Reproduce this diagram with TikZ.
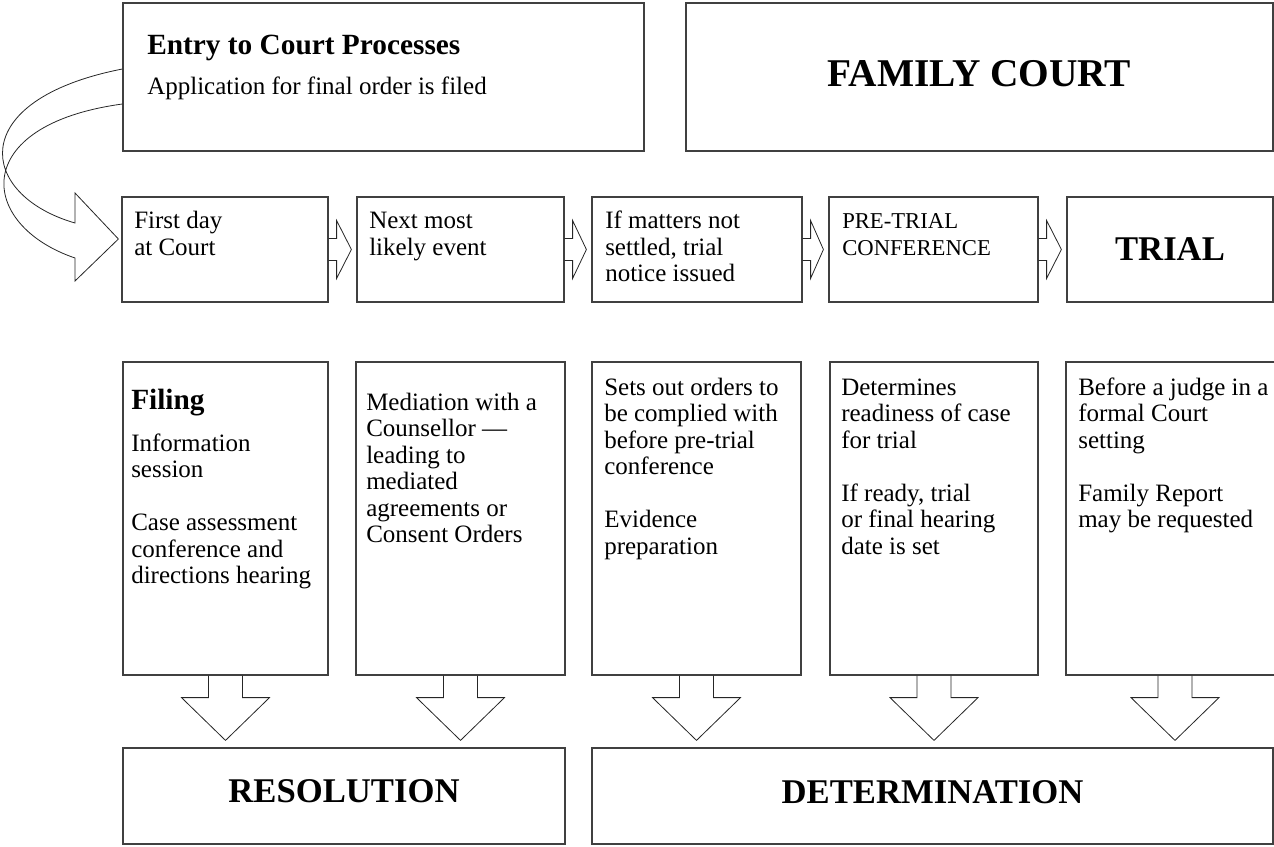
\documentclass[tikz,border=0pt]{standalone}
\usepackage{fontspec}
\setmainfont{Liberation Serif}
\usetikzlibrary{fit,calc}
\begin{document}
\begin{tikzpicture}[x=0.75pt,y=-0.75pt,
  box/.style={draw=black!75, line width=0.9pt, inner sep=0pt},
  blk/.style={draw=black!85, line width=0.6pt, line join=miter},
  body/.style={font=\fontsize{18.75}{19.875}\selectfont, inner sep=0pt, align=left, anchor=north west, text=black},
  headtxt/.style={font=\bfseries\fontsize{22}{26}\selectfont, inner sep=0pt, anchor=base west, text=black},
  bigtxt/.style={font=\bfseries\fontsize{26}{30}\selectfont, inner sep=0pt, text=black},
]
\useasboundingbox (0,0) rectangle (1274,846);
\clip (0,0) rectangle (1274,846);

% top row
\node[box, fit={(123,3) (644,151)}] (entry) {};
\node[headtxt] (entryh) at (147,54) {Entry to Court Processes};
\node[body, anchor=base west] (entryt) at (147,94) {Application for final order is filed};
\node[box, fit={(686,3) (1273,151)}] (fam) {};
\node[bigtxt, font=\bfseries\fontsize{29.5}{33}\selectfont] (famt) at ($(fam.center)+(0,-3)$) {FAMILY COURT};

% second row
\node[box, fit={(122,197) (328,302)}] (s1) {};
\node[box, fit={(357,197) (564,302)}] (s2) {};
\node[box, fit={(592,197) (802,302)}] (s3) {};
\node[box, fit={(829,197) (1038,302)}] (s4) {};
\node[box, fit={(1067,197) (1273,302)}] (s5) {};
\node[body] (s1t) at (134,210) {\strut First day\\at Court};
\node[body] (s2t) at (369,210) {\strut Next most\\likely event};
\node[body] (s3t) at (605,210) {\strut If matters not\\settled, trial\\notice issued};
\node[body, font=\fontsize{17}{19.875}\selectfont] (s4t) at (842,210) {\strut PRE-TRIAL\\CONFERENCE};
\node[bigtxt] (s5t) at (s5.center) {TRIAL};

\foreach \a/\b in {s1/s2, s2/s3, s3/s4, s4/s5}{
  \draw[blk] ($(\a.east)+(0,-11)$) -- ($(\a.east)+(8,-11)$) -- ($(\a.east)+(8,-29)$)
    -- ($(\b.west)+(-5,0)$) -- ($(\a.east)+(8,29)$) -- ($(\a.east)+(8,11)$) -- ($(\a.east)+(0,11)$);
}

% curved arrow
\draw[blk] ($(entry.west)+(0,-8)$) .. controls (-36,100) and (-22,195) .. (75,223)
  -- (75,193) -- ($(s1.west)+(-3,-10.5)$) -- (75,281) -- (75,258)
  .. controls (-22,225) and (-32,125) .. ($(entry.west)+(0,27)$);

% third row
\node[box, fit={(123,362) (328,675)}] (d1) {};
\node[box, fit={(356,362) (565,675)}] (d2) {};
\node[box, fit={(592,362) (801,675)}] (d3) {};
\node[box, fit={(830,362) (1038,675)}] (d4) {};
\node[box, fit={(1066,362) (1284,675)}] (d5) {};
\node[headtxt] (d1h) at (131,409) {Filing};
\node[body] (d1t) at (131,432.5) {\strut Information\\session\\[19.875pt]Case assessment\\conference and\\directions hearing};
\node[body] (d2t) at (366,391.5) {\strut Mediation with a\\Counsellor —\\leading to\\mediated\\agreements or\\Consent Orders};
\node[body] (d3t) at (604,376.5) {\strut Sets out orders to\\be complied with\\before pre-trial\\conference\\[19.875pt]Evidence\\preparation};
\node[body] (d4t) at (841,376.5) {\strut Determines\\readiness of case\\for trial\\[19.875pt]If ready, trial\\or final hearing\\date is set};
\node[body] (d5t) at (1078,376.5) {\strut Before a judge in a\\formal Court\\setting\\[19.875pt]Family Report\\may be requested};

% bottom row
\node[box, fit={(123,748) (565,844)}] (res) {};
\node[box, fit={(592,748) (1273,844)}] (det) {};
\node[bigtxt] (rest) at ($(res.center)+(0,-5)$) {RESOLUTION};
\node[bigtxt] (dett) at ($(det.center)+(0,-4)$) {DETERMINATION};

\foreach \a/\b/\dx in {d1/res/4, d2/res/0, d3/det/2, d4/det/0, d5/det/0}{
  \draw[blk, xshift=\dx*0.75pt] ($(\a.south)+(-17,0)$) -- ($(\a.south)+(-17,22)$) -- ($(\a.south)+(-44,22)$)
    -- ($(\a.south |- \b.north)+(0,-7)$) -- ($(\a.south)+(44,22)$) -- ($(\a.south)+(17,22)$) -- ($(\a.south)+(17,0)$);
}
\end{tikzpicture}
\end{document}
